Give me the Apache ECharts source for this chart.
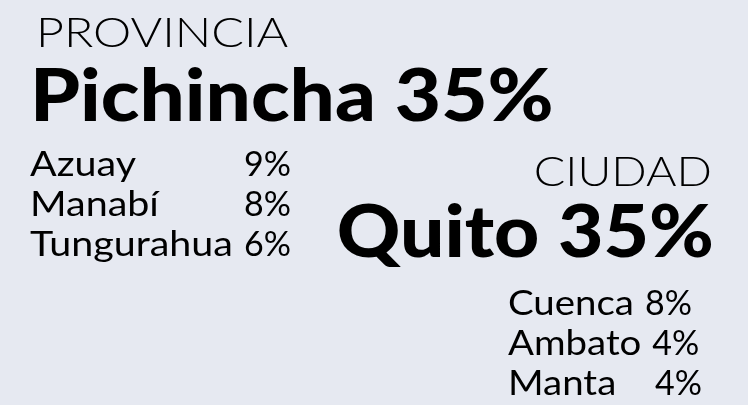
<!DOCTYPE html>
<html>
<head>
<meta charset="utf-8">
<script src="https://cdn.jsdelivr.net/npm/echarts@6/dist/echarts.min.js"></script>
<style>
  html, body { margin: 0; padding: 0; background: #e6e9f1; }
  #chart { width: 748px; height: 405px; }
</style>
</head>
<body>
<div id="chart"></div>
<script>
const provinceTitle = 'PROVINCIA';
const topProvince = 'Pichincha';
const topProvinceShare = 35;
const provinces = ['Azuay', 'Manabí', 'Tungurahua'];
const provinceShares = [9, 8, 6];

const cityTitle = 'CIUDAD';
const topCity = 'Quito';
const topCityShare = 35;
const cities = ['Cuenca', 'Ambato', 'Manta'];
const cityShares = [8, 4, 4];

const FONT = 'Lato';
// the original face is wider than Lato, so stretch a bit
const STRETCH = 1.13;
const chart = echarts.init(document.getElementById('chart'));

// width of a string, used to put the city % right after the name
const ctx = document.createElement('canvas').getContext('2d');
const measure = (str, size, weight) => {
  ctx.font = weight + ' ' + size + 'px ' + FONT;
  return ctx.measureText(str).width * STRETCH;
};

const text = (x, y, str, size, weight, align, sx) => ({
  type: 'text',
  x: x,
  y: y,
  scaleX: sx || STRETCH,
  style: {
    text: str,
    fill: '#000',
    font: weight + ' ' + size + 'px ' + FONT,
    align: align || 'left',
    verticalAlign: 'middle'
  }
});

const elements = [];
// provincia block
elements.push(text(36, 33, provinceTitle, 42, 300, 'left', 1.15));
elements.push(text(30, 98, topProvince + ' ' + topProvinceShare + '%', 72, 900, 'left', 1.11));
provinces.forEach((name, i) => {
  const y = 165 + i * 40;
  elements.push(text(30, y, name, 34, 400, 'left', 1.16));
  elements.push(text(291, y, provinceShares[i] + '%', 34, 400, 'right', 1.0));
});
// ciudad block
elements.push(text(712, 172, cityTitle, 42, 300, 'right', 1.11));
elements.push(text(714, 234, topCity + ' ' + topCityShare + '%', 72, 900, 'right', 1.09));
cities.forEach((name, i) => {
  const y = 304 + i * 40;
  let px = 508 + measure(name, 34, 400) + 11;
  if (px < 640) px = 655; // short names get padded out to the column
  elements.push(text(508, y, name, 34, 400));
  elements.push(text(px, y, cityShares[i] + '%', 34, 400, 'left', 1.0));
});

chart.setOption({
  backgroundColor: '#e6e9f1',
  graphic: { elements: elements }
});
</script>
</body>
</html>
